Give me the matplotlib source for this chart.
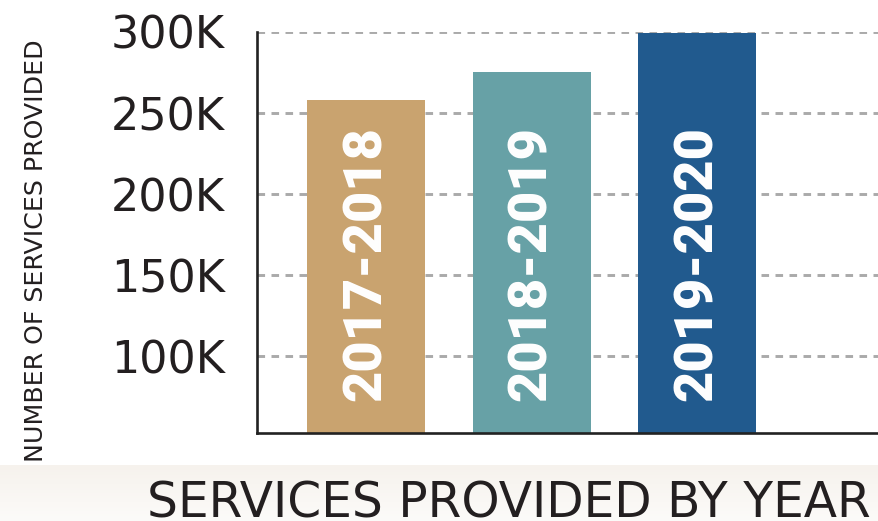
import numpy as np
import matplotlib
matplotlib.use("Agg")
import matplotlib.pyplot as plt
from matplotlib.colors import LinearSegmentedColormap

# Services provided per fiscal year
years = ["2017-2018", "2018-2019", "2019-2020"]
services = [258000, 275500, 299300]
bar_colors = ["#c9a36f", "#67a1a6", "#215a8e"]

yticks = [100000, 150000, 200000, 250000, 300000]
ytick_labels = ["100K", "150K", "200K", "250K", "300K"]

text_color = "#231f20"

fig = plt.figure(figsize=(8.79, 5.21), dpi=100)
fig.patch.set_facecolor("white")

# soft beige band behind the title
band = fig.add_axes([0, 0, 1, 56 / 521], zorder=-1)
band_cmap = LinearSegmentedColormap.from_list("band", ["#fcfbf9", "#f6f2ed"])
band.imshow(np.linspace(0, 1, 64).reshape(-1, 1), aspect="auto", cmap=band_cmap,
            origin="lower", extent=(0, 1, 0, 1))
band.axis("off")

ax = fig.add_axes([257 / 879, 1 - 433 / 521, 1 - 257 / 879, 401 / 521])
ax.set_facecolor("none")

x = np.arange(len(years))
ax.bar(x, services, width=0.713, color=bar_colors, zorder=2)

# year labels written up the inside of each bar
for xi, label in zip(x, years):
    ax.text(xi, 157000, label, rotation=90, ha="center", va="center",
            color="white", fontsize=39, fontweight="heavy", family="Roboto",
            zorder=3)

ax.set_xlim(-0.659, 3.10)
ax.set_ylim(52500, 300000)

ax.set_yticks(yticks)
ax.set_yticklabels(ytick_labels)
ax.tick_params(axis="y", length=0, pad=23, labelsize=32, labelcolor=text_color)
ax.set_xticks([])

ax.grid(axis="y", color="#aaaaaa", linewidth=2.1, linestyle=(0, (2.6, 2.2)))
ax.set_axisbelow(True)

for side in ["top", "right"]:
    ax.spines[side].set_visible(False)
for side in ["left", "bottom"]:
    ax.spines[side].set_color("#222222")
    ax.spines[side].set_linewidth(1.9)

fig.text(36 / 879, 1 - 251 / 521, "NUMBER OF SERVICES PROVIDED", rotation=90,
         ha="center", va="center", fontsize=18.2, color=text_color)

fig.text(147 / 879, 1 - 517 / 521, "SERVICES PROVIDED BY YEAR", ha="left",
         va="baseline", fontsize=35, color=text_color)

fig.savefig("out.png", dpi=100)
